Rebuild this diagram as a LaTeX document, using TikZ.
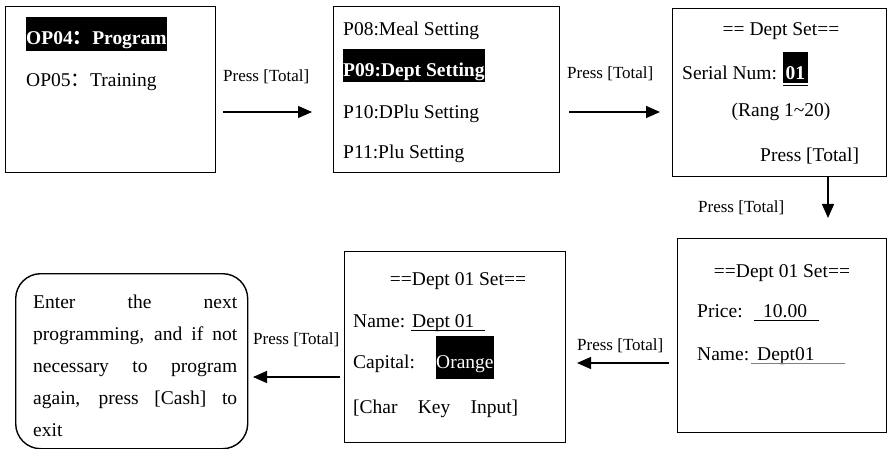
\documentclass[tikz,border=0pt]{standalone}
\usepackage{fontspec}
\setmainfont{Liberation Serif}
\newfontfamily\cjk{Noto Sans CJK SC}
\usetikzlibrary{arrows.meta}

\tikzset{
  screen/.style={draw, line width=1.4pt, inner sep=0pt, anchor=north west},
  txt/.style={anchor=base west, inner sep=0pt, font=\fontsize{19.5}{23}\selectfont},
  hl/.style={txt, fill=black, text=white},
  lbl/.style={anchor=base west, inner sep=0pt, font=\fontsize{17}{20}\selectfont},
  arr/.style={line width=1.4pt, -{Triangle[length=14pt, width=12pt]}},
  uline/.style={line width=0.8pt}
}

\begin{document}
\begin{tikzpicture}[x=1pt, y=-1pt]
    \useasboundingbox (0, 0) rectangle (889, 449);
    % screens
    \node[screen, minimum width=210pt, minimum height=166pt] (op) at (5, 6) {}; % mode menu
    \node[screen, minimum width=226pt, minimum height=166pt] (prog) at (333, 6) {}; % program menu
    \node[screen, minimum width=214pt, minimum height=168pt] (dept) at (672, 8) {}; % dept number
    \node[screen, minimum width=209pt, minimum height=194pt] (price) at (677, 238) {}; % price and name
    \node[screen, minimum width=221pt, minimum height=191pt] (name) at (344, 251) {}; % name entry
    \node[screen, minimum width=232pt, minimum height=175pt, rounded corners=25pt] (next) at (15, 273) {}; % exit note

    % mode menu
    \node[hl, inner xsep=0pt, text height=28pt, text depth=6pt] (op04) at (26, 45) {\bfseries OP04{\cjk ：}Program};
    \node[txt] (op05) at (26, 87) {OP05{\cjk ：}Training};

    % program menu
    \node[txt] (p08) at (343, 36) {P08:Meal Setting};
    \node[hl, text height=28pt, text depth=5pt] (p09) at (343, 77) {\bfseries P09:Dept Setting};
    \node[txt] (p10) at (343, 119) {P10:DPlu Setting};
    \node[txt] (p11) at (343, 159) {P11:Plu Setting};

    % dept number
    \node[txt, anchor=base] (dtitle) at (781, 36) {== Dept Set==};
    \node[txt] (serial) at (682, 80) {Serial Num:};
    \node[hl, inner xsep=2.5pt, text height=28pt, text depth=3pt] (num) at (783, 80) {\bfseries 01};
    \draw[line width=0.5pt, double distance=1pt] (num.south west) ++(0, 3) -- ++(25, 0); % num underline
    \node[txt, anchor=base] (rang) at (781, 117) {(Rang 1\textasciitilde 20)};
    \node[txt] (hint) at (760, 162) {Press [Total]};

    % price and name
    \node[txt, anchor=base] (ptitle) at (782, 277) {==Dept 01 Set==};
    \node[txt] (plbl) at (697, 317) {Price:};
    \node[txt] (pval) at (763, 317) {10.00};
    \draw[uline] (754, 320) -- (819, 320); % price underline
    \node[txt] (nlbl) at (697, 360) {Name:};
    \node[txt] (nval) at (757, 360) {Dept01};
    \draw[uline, gray] (751, 363) -- (845, 363); % name underline

    % name entry
    \node[txt, anchor=base] (ntitle) at (458, 285) {==Dept 01 Set==};
    \node[txt] (name2) at (353, 327) {Name:};
    \node[txt] (nval2) at (412, 327) {Dept 01};
    \draw[uline] (411, 330) -- (485, 330); % name underline
    \node[txt] (cap) at (353, 368) {Capital:};
    \node[hl, inner xsep=0pt, text height=32pt, text depth=11pt] (orange) at (436, 368) {Orange};
    \node[txt] (chars) at (353, 413) {\makebox[165pt][s]{[Char Key Input]}};

    % exit note
    \node[txt] (e1) at (33, 308) {\makebox[204pt][s]{Enter the next}};
    \node[txt] (e2) at (33, 340) {\makebox[204pt][s]{programming, and if not}};
    \node[txt] (e3) at (33, 372) {\makebox[204pt][s]{necessary to program}};
    \node[txt] (e4) at (33, 404) {\makebox[204pt][s]{again, press [Cash] to}};
    \node[txt] (e5) at (33, 436) {exit};

    % arrows
    \coordinate (a1) at (223, 112); \coordinate (b1) at (312, 112);
    \coordinate (a2) at (569, 112); \coordinate (b2) at (660, 112);
    \coordinate (a3) at (828, 176); \coordinate (b3) at (828, 218);
    \coordinate (a4) at (669, 363); \coordinate (b4) at (577, 363);
    \coordinate (a5) at (340, 377); \coordinate (b5) at (253, 377);
    \draw[arr] (a1) -- (b1); \node[lbl] (l1) at (223, 82) {Press [Total]};
    \draw[arr] (a2) -- (b2); \node[lbl] (l2) at (567, 79) {Press [Total]};
    \draw[arr] (a3) -- (b3); \node[lbl] (l3) at (698, 213) {Press [Total]};
    \draw[arr] (a4) -- (b4); \node[lbl] (l4) at (577, 350) {Press [Total]};
    \draw[arr] (a5) -- (b5); \node[lbl] (l5) at (253, 344) {Press [Total]};
\end{tikzpicture}
\end{document}
